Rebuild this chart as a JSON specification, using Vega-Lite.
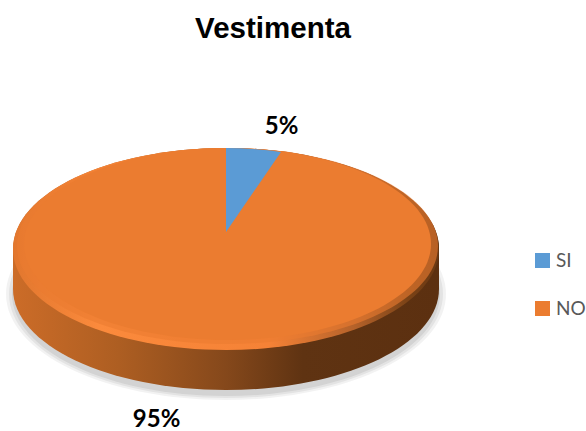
{
"$schema":"https://vega.github.io/schema/vega-lite/v6.json",
"width":452,"height":364,
"autosize":{"type":"none"},
"padding":{"left":0,"top":67,"right":134,"bottom":0},
"background":"white",
"view":{"stroke":null},
"title":{"text":"Vestimenta","font":"Liberation Sans","fontWeight":"bold","fontSize":29.5,"color":"#000000","anchor":"middle","dx":47,"offset":23},
"data":{"values":[{"respuesta":"SI","value":0.05},{"respuesta":"NO","value":0.95}]},
"layer":[
{"transform":[{"filter":"datum.respuesta==='NO'"}],"mark":{"type":"point","filled":true,"size":40000,"opacity":0.05,"color":"#000000","strokeWidth":0,"shape":"M-2.2,0.45 A2.2,1.06 0 1,1 2.2,0.45 A2.2,1.06 0 1,1 -2.2,0.45 Z"}},
{"transform":[{"filter":"datum.respuesta==='NO'"}],"mark":{"type":"point","filled":true,"size":40000,"opacity":0.06,"color":"#000000","strokeWidth":0,"shape":"M-2.17,0.45 A2.17,1.04 0 1,1 2.17,0.45 A2.17,1.04 0 1,1 -2.17,0.45 Z"}},
{"transform":[{"filter":"datum.respuesta==='NO'"}],"mark":{"type":"point","filled":true,"size":40000,"opacity":0.07,"color":"#000000","strokeWidth":0,"shape":"M-2.14,0.45 A2.14,1.02 0 1,1 2.14,0.45 A2.14,1.02 0 1,1 -2.14,0.45 Z"}},
{"transform":[{"filter":"datum.respuesta==='NO'"}],"mark":{"type":"point","filled":true,"size":40000,"opacity":1,"strokeWidth":0,
 "fill":{"gradient":"linear","x1":0,"y1":0,"x2":1,"y2":0,"stops":[{"offset":0,"color":"#cc6c28"},{"offset":0.25,"color":"#ad5e22"},{"offset":0.5,"color":"#85481b"},{"offset":0.68,"color":"#5f3312"},{"offset":1,"color":"#5c3010"}]},
 "shape":"M-2.13,0 L-2.13,0.4 A2.13,1.01 0 0,0 2.13,0.4 L2.13,0 A2.13,1.01 0 0,0 -2.13,0 Z"}},
{"transform":[{"filter":"datum.respuesta==='NO'"}],"mark":{"type":"point","filled":true,"size":40000,"opacity":1,"strokeWidth":0,
 "fill":{"gradient":"linear","x1":0,"y1":0,"x2":1,"y2":0,"stops":[{"offset":0,"color":"#e2772e"},{"offset":0.2,"color":"#fb8a3c"},{"offset":0.6,"color":"#f58236"},{"offset":0.8,"color":"#b5622a"},{"offset":0.93,"color":"#7a4216"},{"offset":1,"color":"#6a3813"}]},
 "shape":"M-2.13,0 A2.13,1.01 0 1,1 2.13,0 A2.13,1.01 0 1,1 -2.13,0 Z"}},
{"transform":[{"filter":"datum.respuesta==='NO'"}],"mark":{"type":"point","filled":true,"size":40000,"opacity":0.6,"color":"#EB7C30","strokeWidth":0,
 "shape":"M-2.09,-0.03 A2.105,0.98 0 1,1 2.12,-0.03 A2.105,0.98 0 1,1 -2.09,-0.03 Z"}},
{"transform":[{"filter":"datum.respuesta==='NO'"}],
 "mark":{"type":"point","filled":true,"size":40000,"opacity":1,"strokeWidth":0,"color":"#EB7C30","shape":"M-2.02,-0.05 A2.035,0.96 0 1,1 2.05,-0.05 A2.035,0.96 0 1,1 -2.02,-0.05 Z"}},
{"transform":[{"filter":"datum.respuesta==='SI'"}],
 "mark":{"type":"point","filled":true,"size":40000,"opacity":1,"strokeWidth":0,"color":"#5B9BD5","shape":"M0,-0.17 L0,-1.01 A2.03,0.96 0 0,1 0.55,-0.97 Z"}},
{"transform":[{"stack":"value","sort":[{"field":"value","order":"ascending"}],"as":["v0","v1"]},{"calculate":"(datum.v0+datum.v1)/2","as":"mid"}],
 "mark":{"type":"text","font":"Lato","fontWeight":"bold","fontSize":24,"dx":3.5,"align":"center","baseline":"middle"},
 "encoding":{
  "theta":{"field":"mid","type":"quantitative","stack":null,"scale":{"domain":[0,1],"range":[0.246,6.529]}},
  "radius":{"field":"respuesta","type":"ordinal","scale":{"domain":["SI","NO"],"range":[133,186]}},
  "text":{"field":"value","type":"quantitative","format":".0%"},
  "color":{"value":"#000000"}
 }},
{"mark":{"type":"square","size":0,"opacity":1,"strokeWidth":0,"filled":true},
 "encoding":{
  "color":{"field":"respuesta","type":"nominal","scale":{"domain":["SI","NO"],"range":["#5B9BD5","#EB7C30"]},
   "legend":{"orient":"none","legendX":533,"legendY":184,"title":null,"symbolType":"square","symbolSize":225,"symbolOpacity":1,"symbolStrokeWidth":0,"labelFont":"Lato","labelFontSize":19,"labelColor":"#595959","rowPadding":28,"labelOffset":4}}
 }}
]
}
